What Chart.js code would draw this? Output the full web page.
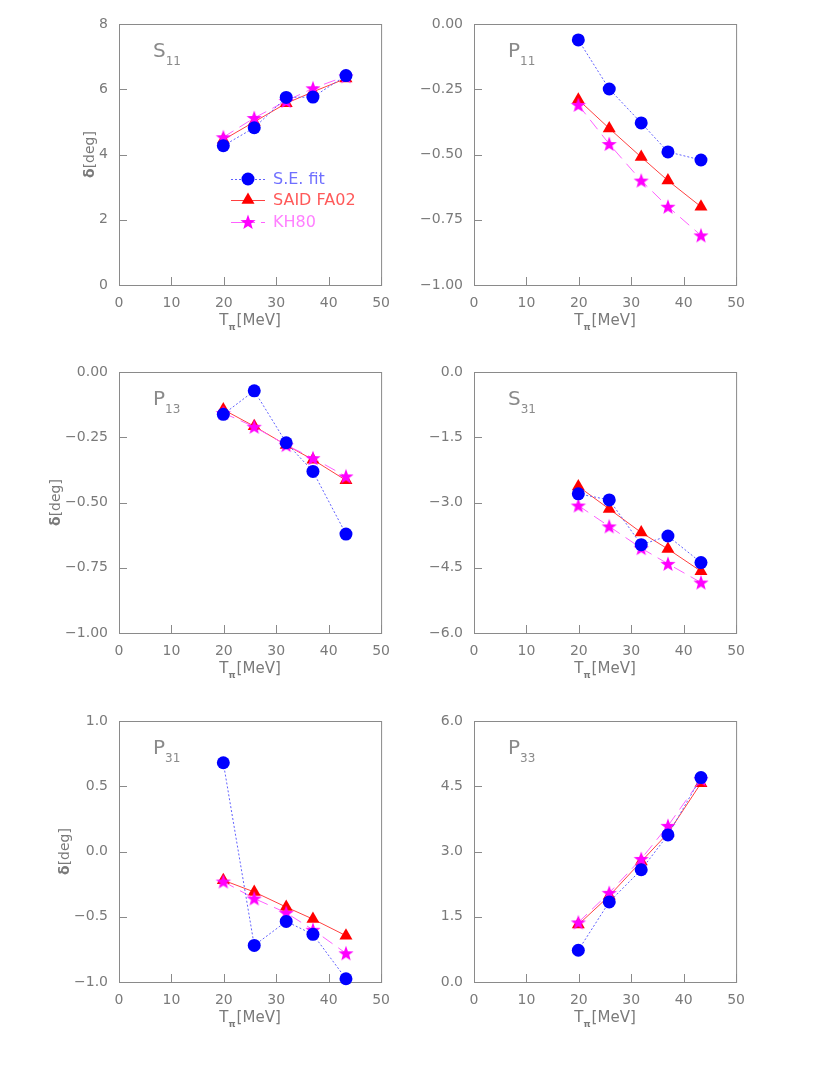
<!DOCTYPE html>
<html>
<head>
<meta charset="utf-8">
<script src="https://cdn.jsdelivr.net/npm/chart.js@4.4.1/dist/chart.umd.min.js"></script>
<style>
  body { margin: 0; background: #fff; width: 830px; height: 1075px; position: relative; overflow: hidden; }
  canvas { position: absolute; }
</style>
</head>
<body>
<canvas id="pS11" width="360" height="330" style="left:40px;top:0px"></canvas>
<canvas id="pP11" width="360" height="330" style="left:395px;top:0px"></canvas>
<canvas id="pP13" width="360" height="330" style="left:40px;top:348px"></canvas>
<canvas id="pS31" width="360" height="330" style="left:395px;top:348px"></canvas>
<canvas id="pP31" width="360" height="330" style="left:40px;top:697px"></canvas>
<canvas id="pP33" width="360" height="330" style="left:395px;top:697px"></canvas>
<script>
// pion kinetic energy T_pi [MeV]
const tpi = [19.9, 25.8, 31.9, 37.0, 43.3];
const xTicks = [0, 10, 20, 30, 40, 50];

// phase shifts [deg]: S.E. fit, SAID FA02, KH80
const seS11   = [4.27, 4.82, 5.75, 5.76, 6.42];
const saidS11 = [4.45, 5.00, 5.57, 5.92, 6.33];
const khS11   = [4.53, 5.12, 5.64, 6.03, 6.40];
const ticksS11 = [0, 2, 4, 6, 8];

const seP11   = [-0.061, -0.249, -0.379, -0.490, -0.521];
const saidP11 = [-0.29, -0.40, -0.51, -0.60, -0.70];
const khP11   = [-0.31, -0.46, -0.60, -0.70, -0.81];
const ticksP11 = [-1, -0.75, -0.5, -0.25, 0];

const seP13   = [-0.162, -0.072, -0.271, -0.381, -0.621];
const saidP13 = [-0.144, -0.208, -0.280, -0.336, -0.415];
const khP13   = [-0.157, -0.210, -0.280, -0.330, -0.400];
const ticksP13 = [-1, -0.75, -0.5, -0.25, 0];

const seS31   = [-2.80, -2.94, -3.97, -3.77, -4.38];
const saidS31 = [-2.63, -3.15, -3.69, -4.07, -4.58];
const khS31   = [-3.07, -3.55, -4.05, -4.41, -4.84];
const ticksS31 = [-6, -4.5, -3, -1.5, 0];

const seP31   = [0.68, -0.72, -0.536, -0.635, -0.975];
const saidP31 = [-0.22, -0.31, -0.426, -0.518, -0.645];
const khP31   = [-0.23, -0.36, -0.47, -0.60, -0.78];
const ticksP31 = [-1, -0.5, 0, 0.5, 1];

const seP33   = [0.73, 1.84, 2.58, 3.38, 4.70];
const saidP33 = [1.32, 1.98, 2.77, 3.42, 4.57];
const khP33   = [1.37, 2.05, 2.83, 3.59, 4.66];
const ticksP33 = [0, 1.5, 3, 4.5, 6];

const seriesNames = ['S.E. fit', 'SAID FA02', 'KH80'];

const FONT = 'DejaVu Sans';
const GREY = '#7a7a7a';
const TICKFONT = 14;

// filled five-point star for KH80
const starImg = document.createElement('canvas');
starImg.width = 18; starImg.height = 18;
(function () {
  const c = starImg.getContext('2d');
  c.fillStyle = '#ff00ff';
  c.beginPath();
  for (let i = 0; i < 10; i++) {
    const r = i % 2 ? 3.3 : 8;
    const a = -Math.PI / 2 + i * Math.PI / 5;
    c.lineTo(9 + r * Math.cos(a), 9.6 + r * Math.sin(a));
  }
  c.closePath();
  c.fill();
})();

const fmt = (v, d) => (v < -1e-9 ? '\u2212' : '') + Math.abs(v).toFixed(d);
const pts = ys => tpi.map((x, i) => ({ x: x, y: ys[i] }));

function drawMarker(ctx, kind, x, y) {
  ctx.save();
  if (kind === 0) {
    ctx.fillStyle = '#0000ff';
    ctx.beginPath(); ctx.arc(x, y, 6.5, 0, Math.PI * 2); ctx.fill();
  } else if (kind === 1) {
    ctx.fillStyle = '#ff0000';
    const r = 7.5;
    ctx.beginPath();
    ctx.moveTo(x, y - r);
    ctx.lineTo(x + r * 0.866, y + r * 0.5);
    ctx.lineTo(x - r * 0.866, y + r * 0.5);
    ctx.closePath(); ctx.fill();
  } else {
    ctx.drawImage(starImg, x - 9, y - 9);
  }
  ctx.restore();
}

const panelDeco = {
  id: 'panelDeco',
  beforeDatasetsDraw(chart, args, opts) {
    const ctx = chart.ctx, a = chart.chartArea;
    ctx.save();
    ctx.strokeStyle = '#8a8a8a';
    ctx.lineWidth = 1;
    ctx.strokeRect(a.left + 0.5, a.top + 0.5, a.right - a.left, a.bottom - a.top);
    ctx.beginPath();
    chart.scales.x.ticks.forEach(t => {
      const px = Math.round(chart.scales.x.getPixelForValue(t.value)) + 0.5;
      ctx.moveTo(px, a.bottom); ctx.lineTo(px, a.bottom - 8);
    });
    chart.scales.y.ticks.forEach(t => {
      const py = Math.round(chart.scales.y.getPixelForValue(t.value)) + 0.5;
      ctx.moveTo(a.left, py); ctx.lineTo(a.left + 8, py);
    });
    ctx.stroke();
    ctx.restore();
  },
  afterDraw(chart, args, opts) {
    const ctx = chart.ctx, a = chart.chartArea;
    ctx.save();
    ctx.fillStyle = '#8a8a8a';
    ctx.textBaseline = 'alphabetic';
    ctx.font = '20px "' + FONT + '"';
    ctx.fillText(opts.name, a.left + 34, a.top + 33);
    const w = ctx.measureText(opts.name).width;
    ctx.font = '12px "' + FONT + '"';
    ctx.fillText(opts.sub, a.left + 34 + w, a.top + 41);

    // x axis title T_pi[MeV]
    ctx.fillStyle = GREY;
    ctx.font = '15px "' + FONT + '"';
    const tw = ctx.measureText('T').width;
    const mw = ctx.measureText('[MeV]').width;
    ctx.font = 'bold 9px "' + FONT + '"';
    const pw = ctx.measureText('\u03c0').width;
    const x0 = (a.left + a.right) / 2 - (tw + pw + 1 + mw) / 2;
    const yb = a.bottom + 40;
    ctx.font = '15px "' + FONT + '"';
    ctx.fillText('T', x0, yb);
    ctx.font = 'bold 9px "' + FONT + '"';
    ctx.fillText('\u03c0', x0 + tw, yb + 5);
    ctx.font = '15px "' + FONT + '"';
    ctx.fillText('[MeV]', x0 + tw + pw + 1, yb);

    if (opts.yTitle) {
      // place the title just left of the widest tick label
      ctx.font = TICKFONT + 'px "' + FONT + '"';
      let maxW = 0;
      chart.scales.y.ticks.forEach(t => { maxW = Math.max(maxW, ctx.measureText(t.label).width); });
      const cx = a.left - 11 - maxW - 9;
      ctx.save();
      ctx.translate(cx, (a.top + a.bottom) / 2);
      ctx.rotate(-Math.PI / 2);
      ctx.textBaseline = 'middle';
      ctx.font = 'bold 14px "' + FONT + '"';
      const dw = ctx.measureText('\u03b4').width;
      ctx.font = '14px "' + FONT + '"';
      const rw = ctx.measureText('[deg]').width;
      const sx = -(dw + rw) / 2;
      ctx.font = 'bold 14px "' + FONT + '"';
      ctx.fillText('\u03b4', sx, 0);
      ctx.font = '14px "' + FONT + '"';
      ctx.fillText('[deg]', sx + dw, 0);
      ctx.restore();
    }

    if (opts.legend) {
      const cols = ['#7070ff', '#ff5a5a', '#ff80ff'];
      const lines = ['#6060ff', '#ff4040', '#ff60ff'];
      const dashes = [[2, 2], [], [24, 6]];
      const rows = [179, 200, 222];
      seriesNames.forEach((n, i) => {
        const y = rows[i];
        ctx.strokeStyle = lines[i];
        ctx.lineWidth = 1;
        ctx.setLineDash(dashes[i]);
        ctx.beginPath(); ctx.moveTo(a.left + 112, y + 0.5); ctx.lineTo(a.left + 146, y + 0.5); ctx.stroke();
        ctx.setLineDash([]);
        drawMarker(ctx, i, a.left + 129, y);
        ctx.fillStyle = cols[i];
        ctx.font = '16px "' + FONT + '"';
        ctx.textBaseline = 'middle';
        ctx.fillText(n, a.left + 154, y + 1);
      });
    }
    ctx.restore();
  }
};

function makePanel(id, name, sub, ticks, dec, se, said, kh, yTitle, legend) {
  new Chart(document.getElementById(id), {
    type: 'line',
    data: {
      datasets: [
        { label: seriesNames[0], data: pts(se), order: 1, borderColor: '#6060ff', borderWidth: 1,
          borderDash: [2, 2], pointStyle: 'circle', pointRadius: 6.5, pointBackgroundColor: '#0000ff',
          pointBorderWidth: 0, pointBorderColor: '#0000ff', clip: false },
        { label: seriesNames[2], data: pts(kh), order: 2, borderColor: '#ff60ff', borderWidth: 1,
          borderDash: [12, 7], pointStyle: starImg, pointRadius: 8, clip: false },
        { label: seriesNames[1], data: pts(said), order: 3, borderColor: '#ff4040', borderWidth: 1,
          pointStyle: 'triangle', pointRadius: 7.5, pointBackgroundColor: '#ff0000',
          pointBorderWidth: 0, pointBorderColor: '#ff0000', clip: false }
      ]
    },
    options: {
      responsive: false,
      animation: false,
      layout: { padding: { top: 24, right: 13, left: 0, bottom: 0 } },
      plugins: {
        legend: { display: false },
        tooltip: { enabled: false },
        panelDeco: { name: name, sub: sub, yTitle: yTitle, legend: legend }
      },
      scales: {
        x: {
          type: 'linear', min: 0, max: 50,
          afterBuildTicks: s => { s.ticks = xTicks.map(v => ({ value: v })); },
          afterFit: s => { s.height = 45; },
          grid: { display: false, drawTicks: false },
          border: { display: false },
          ticks: { color: GREY, font: { family: FONT, size: TICKFONT }, padding: 10, maxRotation: 0, autoSkip: false,
                   callback: v => String(v) }
        },
        y: {
          type: 'linear', min: ticks[0], max: ticks[ticks.length - 1],
          afterBuildTicks: s => { s.ticks = ticks.map(v => ({ value: v })); },
          afterFit: s => { s.width = 79; },
          grid: { display: false, drawTicks: false },
          border: { display: false },
          ticks: { color: GREY, font: { family: FONT, size: TICKFONT }, padding: 11, autoSkip: false,
                   callback: v => fmt(v, dec) }
        }
      }
    },
    plugins: [panelDeco]
  });
}

makePanel('pS11', 'S', '11', ticksS11, 0, seS11, saidS11, khS11, true, true);
makePanel('pP11', 'P', '11', ticksP11, 2, seP11, saidP11, khP11, false, false);
makePanel('pP13', 'P', '13', ticksP13, 2, seP13, saidP13, khP13, true, false);
makePanel('pS31', 'S', '31', ticksS31, 1, seS31, saidS31, khS31, false, false);
makePanel('pP31', 'P', '31', ticksP31, 1, seP31, saidP31, khP31, true, false);
makePanel('pP33', 'P', '33', ticksP33, 1, seP33, saidP33, khP33, false, false);
</script>
</body>
</html>
